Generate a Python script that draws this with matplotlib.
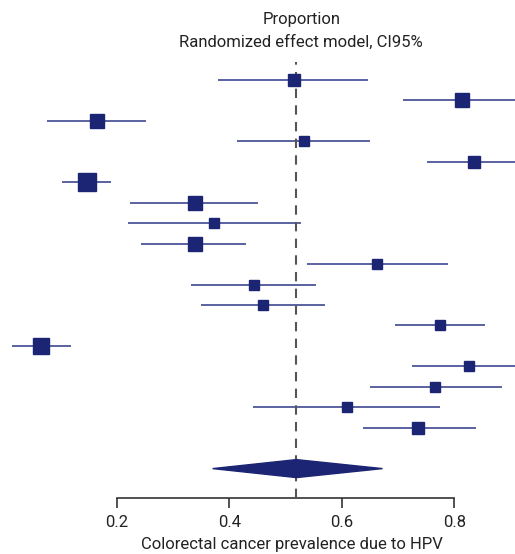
import numpy as np
import matplotlib
matplotlib.use('Agg')
import matplotlib.pyplot as plt
from matplotlib.patches import Polygon

# study estimates (proportion) with 95% CI
est = [0.514, 0.813, 0.165, 0.533, 0.835, 0.147, 0.339, 0.373, 0.339,
       0.663, 0.444, 0.460, 0.775, 0.065, 0.825, 0.766, 0.609, 0.736]
lo = [0.380, 0.709, 0.076, 0.414, 0.752, 0.102, 0.224, 0.219, 0.243,
      0.537, 0.331, 0.350, 0.695, 0.013, 0.725, 0.650, 0.442, 0.637]
hi = [0.646, 0.930, 0.251, 0.650, 0.930, 0.190, 0.450, 0.528, 0.430,
      0.789, 0.554, 0.569, 0.855, 0.119, 0.930, 0.884, 0.775, 0.838]
# relative study weight (drives square size)
weights = [12, 14, 15, 11, 13, 18, 14, 11, 14, 11, 11, 11, 11, 17, 10, 11, 10, 13]

# pooled random-effects estimate
pooled = 0.519
pooled_lo = 0.370
pooled_hi = 0.672

ticks = [0.2, 0.4, 0.6, 0.8]
navy = '#1c2573'
line_col = '#3d4890'

plt.rcParams['font.family'] = ['Roboto', 'DejaVu Sans']

fig = plt.figure(figsize=(5.15, 5.54), dpi=100)
ax = fig.add_axes([0.0, 0.101, 1.0, 0.787])

n = len(est)
ys = np.arange(n)
for y, e, l, h, w in zip(ys, est, lo, hi, weights):
    ax.plot([l, h], [y, y], color=line_col, lw=1.2, solid_capstyle='butt', zorder=2)
    ax.plot(e, y, marker='s', color=navy, markersize=w * 0.7, zorder=4)

dy = n + 1
dh = 0.44
ax.add_patch(Polygon([(pooled_lo, dy), (pooled, dy - dh), (pooled_hi, dy), (pooled, dy + dh)],
                     closed=True, color=navy, zorder=4))

ax.axvline(pooled, color='#555555', lw=1.5, ls=(0, (4.5, 3.5)), zorder=3)

ax.set_xlim(-0.008, 0.9076)
ax.set_ylim(20.44, -0.88)
ax.set_yticks([])
for s in ['top', 'left', 'right']:
    ax.spines[s].set_visible(False)
ax.spines['bottom'].set_bounds(0.2, 0.8)
ax.spines['bottom'].set_color('#333333')
ax.spines['bottom'].set_linewidth(1.2)
ax.set_xticks(ticks)
ax.set_xticklabels([f'{t:.1f}' for t in ticks])
ax.tick_params(axis='x', length=7, width=1.2, color='#333333', labelsize=12,
               labelcolor='#222222', pad=5)
ax.set_xlabel('Colorectal cancer prevalence due to HPV', fontsize=12,
              color='#222222')
ax.xaxis.set_label_coords(0.566, -0.089)

fig.text(0.585, 0.964, 'Proportion', ha='center', va='center', fontsize=12, color='#222222')
fig.text(0.585, 0.924, 'Randomized effect model, CI95%', ha='center', va='center',
         fontsize=12, color='#222222')

fig.savefig('out.png', dpi=100)
